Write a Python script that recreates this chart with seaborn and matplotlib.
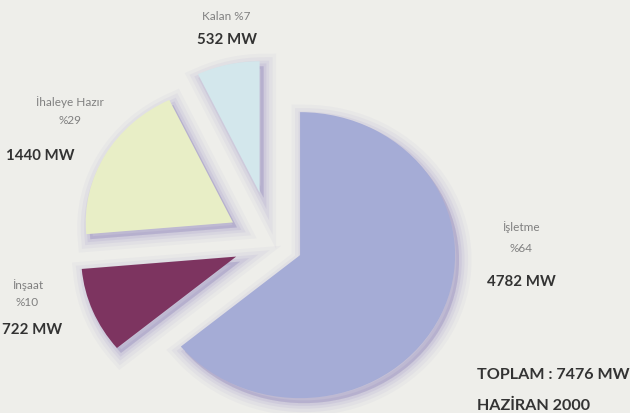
import matplotlib
matplotlib.use("Agg")
import matplotlib.pyplot as plt
import seaborn as sns

# ------------------------------------------------------------------
# DATA
# ------------------------------------------------------------------
names = ["İşletme", "İnşaat", "İhaleye Hazır", "Kalan"]
percent_labels = ["%64", "%10", "%29", "%7"]
mw_values = [4782, 722, 1440, 532]
total_mw = 7476
date_label = "HAZİRAN 2000"

sns.set_theme(style="white")
plt.rcParams["font.family"] = ["Lato", "DejaVu Sans"]

bg = "#EEEEEA"
colors = ["#A5ACD6", "#7D3460", "#E8EEC6", "#D3E7EC"]
explode = [0.2, 0.25, 0.29, 0.36]
slice_r = [1.0, 1.0, 0.95, 0.92]   # far slices look a bit smaller

W, H = 630, 413
px_x, px_y = 155, 143   # pixels per pie radius (pie is slightly wide)
cx, cy = 272, 243       # pie centre in pixels (from top-left)

fig = plt.figure(figsize=(6.3, 4.13), dpi=100, facecolor=bg)
ax = fig.add_axes([0, 0, 1, 1])
ax.set_facecolor(bg)

# soft purple drop shadow behind the slices
shadow_c = (0.42, 0.36, 0.68)
for lw, a in [(18, 0.04), (13, 0.05), (8, 0.07), (4, 0.09)]:
    sh, _ = ax.pie(mw_values, explode=explode, startangle=90, counterclock=False,
                   center=(4 / px_x, -5 / px_y),
                   wedgeprops=dict(facecolor=(*shadow_c, a),
                                   edgecolor=(*shadow_c, a), linewidth=lw))
    for w, r in zip(sh, slice_r):
        w.set_radius(r)

wedges, _ = ax.pie(mw_values, explode=explode, startangle=90, counterclock=False,
                   colors=colors, wedgeprops=dict(edgecolor="none", linewidth=0))
for w, r in zip(wedges, slice_r):
    w.set_radius(r)

ax.set_xlim(-cx / px_x, (W - cx) / px_x)
ax.set_ylim(-(H - cy) / px_y, cy / px_y)
ax.set_aspect("auto")
ax.axis("off")

# text overlay in pixel coordinates
tx = fig.add_axes([0, 0, 1, 1])
tx.set_xlim(0, W)
tx.set_ylim(H, 0)
tx.axis("off")

name_kw = dict(fontsize=8.5, color="#808080", ha="center", va="center")
mw_kw = dict(fontsize=10.8, color="#333333", fontweight="bold", va="center")

# İşletme
tx.text(521, 227, names[0], **name_kw)
tx.text(521, 249, percent_labels[0], **name_kw)
tx.text(521, 282, f"{mw_values[0]} MW", ha="center", **mw_kw)
# İnşaat
tx.text(28, 285, names[1], **name_kw)
tx.text(27, 303, percent_labels[1], **name_kw)
tx.text(2, 330, f"{mw_values[1]} MW", ha="left", **mw_kw)
# İhaleye Hazır
tx.text(70, 102, names[2], **name_kw)
tx.text(70, 120, percent_labels[2], **name_kw)
tx.text(6, 156, f"{mw_values[2]} MW", ha="left", **mw_kw)
# Kalan
tx.text(226, 16, f"{names[3]} {percent_labels[3]}", **name_kw)
tx.text(227, 40, f"{mw_values[3]} MW", ha="center", **mw_kw)

# totals
tot_kw = dict(mw_kw, fontsize=11.6)
tx.text(477, 375, f"TOPLAM : {total_mw} MW", ha="left", **tot_kw)
tx.text(477, 406, date_label, ha="left", **tot_kw)

fig.savefig("out.png", dpi=100, facecolor=bg)
